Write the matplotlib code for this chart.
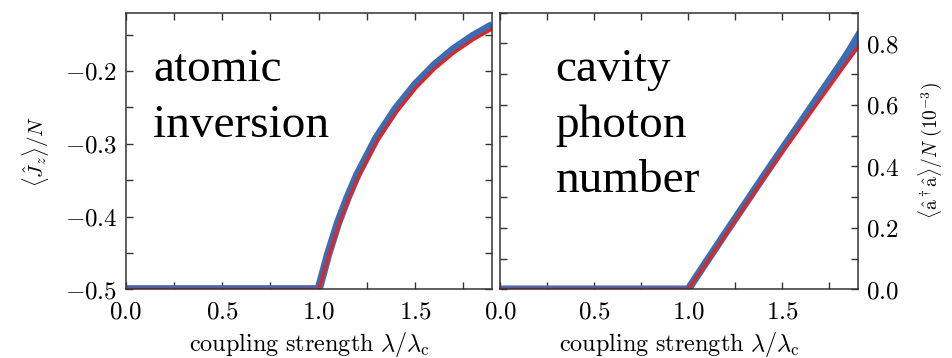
import numpy as np
import matplotlib
matplotlib.use("Agg")
from matplotlib import pyplot as plt
from matplotlib.ticker import MultipleLocator, FuncFormatter

plt.rcParams['mathtext.fontset'] = 'cm'
plt.rcParams['font.family'] = ['DejaVu Serif']

BLUE = '#3a6db5'
RED = '#d42a2a'

# coupling strength lambda / lambda_c
lam = [0.0, 0.5, 1.0, 1.05, 1.1, 1.15, 1.2, 1.3, 1.4, 1.5, 1.6, 1.7, 1.8, 1.9]

# atomic inversion <Jz>/N
jz_red = [-0.5, -0.5, -0.5, -0.455, -0.414, -0.379, -0.348, -0.297, -0.257,
          -0.224, -0.197, -0.175, -0.157, -0.142]
jz_blue = [-0.5, -0.5, -0.5, -0.451, -0.409, -0.374, -0.343, -0.292, -0.252,
           -0.219, -0.192, -0.170, -0.152, -0.137]

# cavity photon number <a+a>/N, units of 1e-3
n_red = [0.0, 0.0, 0.0, 0.045, 0.09, 0.135, 0.18, 0.27, 0.36, 0.447, 0.532,
         0.618, 0.703, 0.790]
n_blue = [0.0, 0.0, 0.0, 0.047, 0.093, 0.139, 0.185, 0.276, 0.367, 0.457,
          0.545, 0.635, 0.724, 0.815]
n_blue_lo = [0.0, 0.0, 0.0, 0.044, 0.09, 0.135, 0.18, 0.27, 0.36, 0.447, 0.533,
             0.618, 0.70, 0.78]
n_blue_hi = [0.0, 0.0, 0.0, 0.050, 0.096, 0.143, 0.19, 0.282, 0.374, 0.468,
             0.558, 0.653, 0.748, 0.85]

fig = plt.figure(figsize=(9.53, 3.58), dpi=100)
ax1 = fig.add_axes([0.1319, 0.1919, 0.3847, 0.7726])
ax2 = fig.add_axes([0.5247, 0.1919, 0.3753, 0.7726])

fmt = FuncFormatter(lambda v, p: r'$%.1f$' % v)

for ax in (ax1, ax2):
    ax.set_xlim(0, 1.9)
    ax.xaxis.set_major_locator(MultipleLocator(0.5))
    ax.xaxis.set_minor_locator(MultipleLocator(0.25))
    ax.xaxis.set_major_formatter(fmt)
    ax.yaxis.set_major_formatter(fmt)
    ax.tick_params(which='both', direction='in', top=True, right=True,
                   length=5, width=1, color='#333333', labelsize=18, pad=6)
    ax.tick_params(axis='x', pad=8)
    for s in ax.spines.values():
        s.set_color('#333333')
        s.set_linewidth(1.1)
    ax.set_xlabel(r'$\mathrm{coupling\ strength}\ \lambda/\lambda_\mathrm{c}$',
                  fontsize=17.5, labelpad=4.5)

ax1.plot(lam, jz_blue, color=BLUE, lw=6, solid_capstyle='butt')
ax1.plot(lam, jz_red, color=RED, lw=2.5)
ax1.set_ylim(-0.5, -0.12)
ax1.yaxis.set_major_locator(MultipleLocator(0.1))
ax1.yaxis.set_minor_locator(MultipleLocator(0.05))
ax1.set_ylabel(r'$\langle \hat{J}_z \rangle / N$', fontsize=15, labelpad=10)
ax1.text(0.075, 0.87, 'atomic\ninversion', transform=ax1.transAxes,
         family='Liberation Serif', fontsize=34, va='top', ha='left',
         linespacing=1.4)

ax2.fill_between(lam, n_blue_lo, n_blue_hi, color=BLUE, lw=0)
ax2.plot(lam, n_blue, color=BLUE, lw=5.5, solid_capstyle='butt')
ax2.plot(lam, n_red, color=RED, lw=2.5)
ax2.set_ylim(0, 0.9)
ax2.yaxis.set_major_locator(MultipleLocator(0.2))
ax2.yaxis.set_minor_locator(MultipleLocator(0.1))
ax2.tick_params(which='both', labelleft=False, labelright=True)
ax2.yaxis.set_label_position('right')
ax2.set_ylabel(r'$\langle \hat{\mathrm{a}}^\dagger \hat{\mathrm{a}} \rangle / N\ (10^{-3})$',
               fontsize=14, labelpad=12)
ax2.text(0.155, 0.87, 'cavity\nphoton\nnumber', transform=ax2.transAxes,
         family='Liberation Serif', fontsize=34, va='top', ha='left',
         linespacing=1.4)

fig.savefig('out.png', dpi=100)
